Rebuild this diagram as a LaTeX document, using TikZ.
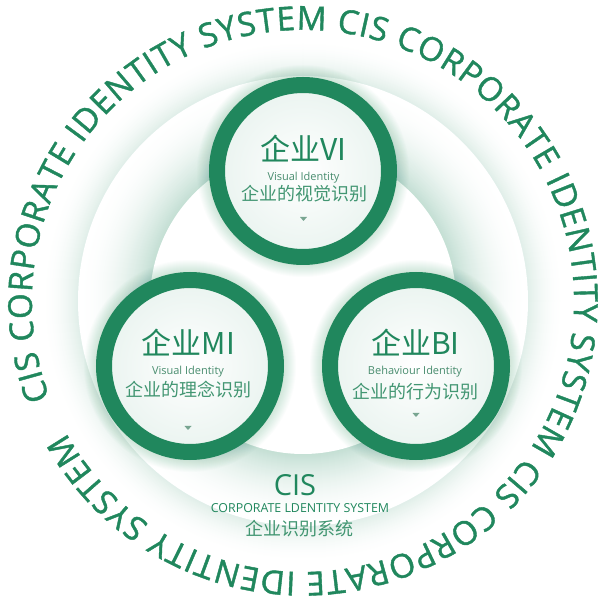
\documentclass[tikz,border=0pt]{standalone}
\usepackage{fontspec}
\setmainfont{Open Sans}
\newfontfamily\cjk{Noto Sans CJK SC}
\newfontfamily\ringface{Open Sans}[FakeBold=1.2]
\usetikzlibrary{decorations.text}
\definecolor{cg}{RGB}{32,135,93}
\definecolor{cglight}{RGB}{66,150,114}
\definecolor{cgtext}{RGB}{72,140,110}
\definecolor{cgtri}{RGB}{120,165,145}
\newcommand\rf{\ringface\fontsize{33}{33}\selectfont}
\tikzset{
  ring/.style={draw=cg, line width=16pt},
  title/.style={text=cg, font=\cjk\fontsize{30}{36}\selectfont, inner sep=0pt},
  sub/.style={text=cgtext, font=\fontsize{11}{13}\selectfont, inner sep=0pt},
  cn/.style={text=cglight, font=\cjk\fontsize{18}{22}\selectfont, inner sep=0pt},
  tri/.style={fill=cgtri},
}
\begin{document}
\begin{tikzpicture}[x=1pt,y=1pt]
\useasboundingbox (0,0) rectangle (603,603);
\fill[white] (0,0) rectangle (603,603);
\coordinate (C) at (303,302);
% outer glow of big disk
\foreach \r in {262,261,...,226} {
  \pgfmathsetmacro\t{(262-\r)/37}
  \pgfmathsetmacro\k{14*\t*\t}
  \fill[cg!\k!white] (C) circle[radius=\r];
}
% band gradient (shadow of inner disk)
\foreach \r in {225,224,...,154} {
  \pgfmathsetmacro\t{(225-\r)/71}
  \pgfmathsetmacro\k{26*\t*\t}
  \fill[cg!\k!white] (C) circle[radius=\r];
}
\fill[white] (C) circle[radius=153];
% circle centres
\coordinate (V) at (303,432);
\coordinate (M) at (190,237);
\coordinate (B) at (416,237);
\foreach \c in {V,M,B} {
  \foreach \i in {0,...,11} \fill[cg, fill opacity=0.015] (\c) circle[radius=106-\i];
  \shade[inner color=white, outer color=cg!10!white] (\c) circle[radius=90];
  \draw[ring] (\c) circle[radius=86];
}
% ring text
\path[decorate, decoration={text along path, text align=fit to path,
    text={|\rf|CIS CORPORATE IDENTITY SYSTEM CIS CORPORATE IDENTITY SYSTEM CIS CORPORATE IDENTITY SYSTEM}, text color=cg}]
  (C) ++(201:271) arc[start angle=201, end angle=-151, radius=271];
% VI
\node[title] (vit) at (303.5,454) {企业VI};
\node[sub] (vis) at (303.5,425) {Visual Identity};
\node[cn] (vic) at (304,409) {企业的视觉识别};
\coordinate (vitri) at (303.5,384);
\fill[tri] ([xshift=-3.5pt,yshift=2pt]vitri) -- ([xshift=3.5pt,yshift=2pt]vitri) -- ([yshift=-2pt]vitri) -- cycle;
% MI
\node[title] (mit) at (188.5,260) {企业MI};
\node[sub] (mis) at (188,231) {Visual Identity};
\node[cn] (mic) at (188,213) {企业的理念识别};
\coordinate (mitri) at (188,175);
\fill[tri] ([xshift=-3.5pt,yshift=2pt]mitri) -- ([xshift=3.5pt,yshift=2pt]mitri) -- ([yshift=-2pt]mitri) -- cycle;
% BI
\node[title] (bit) at (415.5,260) {企业BI};
\node[sub] (bis) at (415,231) {Behaviour Identity};
\node[cn] (bic) at (415,211) {企业的行为识别};
\coordinate (bitri) at (416,188);
\fill[tri] ([xshift=-3.5pt,yshift=2pt]bitri) -- ([xshift=3.5pt,yshift=2pt]bitri) -- ([yshift=-2pt]bitri) -- cycle;
% bottom CIS
\node[text=cg, font=\fontsize{29}{30}\selectfont, inner sep=0pt] (cis) at (295,118) {CIS};
\node[text=cg, font=\fontsize{12.4}{14}\selectfont, inner sep=0pt] (cisen) at (300,94.5) {CORPORATE LDENTITY SYSTEM};
\node[cn] (ciscn) at (299,74.5) {企业识别系统};
\end{tikzpicture}
\end{document}
